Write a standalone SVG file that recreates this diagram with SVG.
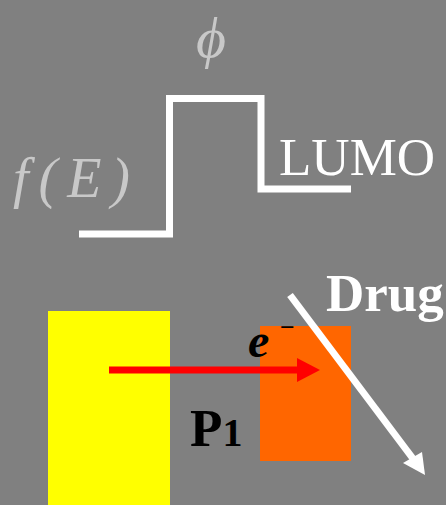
<svg xmlns="http://www.w3.org/2000/svg" width="446" height="505" viewBox="0 0 446 505">
<style>
.serif{font-family:"Liberation Serif","Times New Roman",serif}
.math{fill:#c8c8c8;font-style:italic}
</style>
<rect x="0" y="0" width="446" height="505" fill="#808080"/>
<g id="potential">
<polyline points="79,234 169.5,234 169.5,98.5 261,98.5 261,189 351,189" fill="none" stroke="#ffffff" stroke-width="7" stroke-linejoin="miter"/>
</g>
<g id="phi-label"><text class="serif math" x="211" y="57" font-size="58" text-anchor="middle">ϕ</text></g>
<g id="fE-label"><text class="serif math" x="13" y="197" font-size="56" textLength="117" lengthAdjust="spacing">f(E)</text></g>
<g id="lumo-label"><text class="serif" x="279" y="175" font-size="53" fill="#ffffff">LUMO</text></g>
<g id="yellow-block"><rect x="48" y="311" width="122" height="194" fill="#ffff00"/></g>
<g id="orange-block"><rect x="260" y="326" width="91" height="135" fill="#ff6600"/></g>
<g id="p1-label"><text class="serif" x="190" y="446" font-size="53" font-weight="bold" fill="#000000">P<tspan font-size="40">1</tspan></text></g>
<g id="electron-label"><text class="serif" x="248" y="357" font-size="48" font-weight="bold" font-style="italic" fill="#000000">e</text><text class="serif" x="280" y="336" font-size="26" font-weight="bold" fill="#000000">−</text></g>
<g id="drug-label"><text class="serif" x="326" y="311" font-size="53" font-weight="bold" fill="#ffffff">Drug</text></g>
<g id="connectors">
<line x1="109" y1="370" x2="299" y2="370" stroke="#ff0000" stroke-width="7"/>
<polygon points="297,358 320,370 297,382" fill="#ff0000"/>
<line x1="290" y1="295" x2="414" y2="460" stroke="#ffffff" stroke-width="7"/>
<polygon points="403,463 425,475 422,452" fill="#ffffff"/>
</g>
</svg>
